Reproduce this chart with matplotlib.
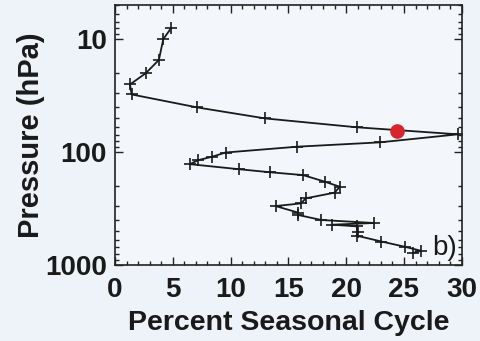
import numpy as np
import matplotlib
matplotlib.use('Agg')
import matplotlib.pyplot as plt
from matplotlib.ticker import FixedLocator, LogLocator, NullFormatter, MultipleLocator

# profile of percent seasonal cycle vs pressure
pct = [4.84, 4.18, 3.80, 2.65, 1.30, 1.44, 7.13, 13.0, 20.94, 29.67,
       22.9, 15.76, 9.57, 8.41, 7.2, 6.48, 10.74, 13.4, 16.27, 18.15,
       19.45, 19.0, 16.5, 16.1, 13.9, 15.85, 15.85, 17.86, 22.4, 18.8,
       20.9, 21.0, 20.9, 23.05, 25.07, 26.5, 25.8]
pres = [8.04, 10.0, 15.3, 20.1, 25.2, 30.9, 40.3, 50.4, 60.4, 69.7,
        82.1, 89.7, 101, 110, 118, 128, 142, 151, 160, 183,
        203, 229, 257, 285, 301, 344, 361, 400, 425, 440,
        455, 515, 550, 620, 690, 750, 780]

# highlighted point
dot_pct = [24.43]
dot_pres = [64.5]

xticks = [0, 5, 10, 15, 20, 25, 30]
yticks = [10, 100, 1000]

bg = '#eef3f9'
plt.rcParams['font.family'] = ['Liberation Sans', 'DejaVu Sans']

fig = plt.figure(figsize=(4.81, 3.41), dpi=100, facecolor=bg)
ax = fig.add_axes([0.239, 0.223, 0.721, 0.762])
ax.set_facecolor('#f3f6fa')

ax.plot(pct, pres, color='#1a1a1a', lw=1.3, marker='+', markersize=9,
        markeredgewidth=1.2)
ax.plot(dot_pct, dot_pres, 'o', color='#d9232e', markersize=9.5, zorder=5)

ax.set_yscale('log')
ax.set_ylim(1000, 5)
ax.set_xlim(0, 30)

ax.yaxis.set_major_locator(FixedLocator(yticks))
ax.set_yticklabels([str(t) for t in yticks])
ax.yaxis.set_minor_locator(LogLocator(base=10, subs=np.arange(2, 10)))
ax.yaxis.set_minor_formatter(NullFormatter())
ax.set_xticks(xticks)
ax.xaxis.set_minor_locator(MultipleLocator(1))

ax.tick_params(which='both', direction='in', top=True, right=True,
               color='#222222', width=1.0)
ax.tick_params(which='major', length=6, labelsize=20, pad=6)
ax.tick_params(axis='x', which='major', pad=9)
ax.tick_params(which='minor', length=3)
for lbl in ax.get_xticklabels() + ax.get_yticklabels():
    lbl.set_fontweight('bold')
    lbl.set_color('#1a1a1a')
for sp in ax.spines.values():
    sp.set_color('#222222')
    sp.set_linewidth(1.2)

ax.set_xlabel('Percent Seasonal Cycle', fontsize=20.5, fontweight='bold',
              color='#1a1a1a', labelpad=5)
ax.set_ylabel('Pressure (hPa)', fontsize=21, fontweight='bold',
              color='#1a1a1a', labelpad=0)

ax.text(0.985, 0.065, 'b)', transform=ax.transAxes, ha='right', va='center',
        fontsize=20, color='#1a1a1a')

fig.savefig('out.png', dpi=100, facecolor=bg)
